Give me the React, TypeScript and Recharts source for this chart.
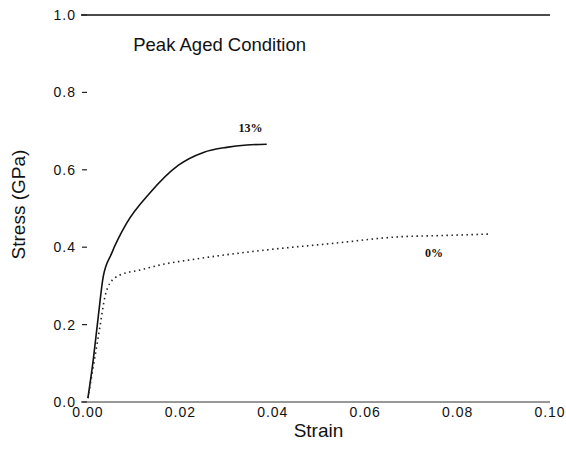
import React from 'react';
import { LineChart, Line, XAxis, YAxis, ReferenceLine, ReferenceDot } from 'recharts';

// 13% curve (solid)
const strain13 = [0, 0.00115, 0.00223, 0.00331, 0.00513, 0.00838, 0.0134, 0.0196, 0.025, 0.03, 0.0344, 0.0387];
const stress13 = [0.01, 0.109, 0.22, 0.324, 0.384, 0.462, 0.54, 0.612, 0.645, 0.658, 0.664, 0.666];

// 0% curve (dotted)
const strain0 = [0, 0.00152, 0.0026, 0.00368, 0.00476, 0.00693, 0.01126, 0.01558, 0.02424, 0.03868, 0.0531, 0.06753, 0.0762, 0.08701];
const stress0 = [0.01, 0.117, 0.195, 0.272, 0.307, 0.328, 0.341, 0.354, 0.371, 0.393, 0.41, 0.427, 0.43, 0.434];

const xTicks = [0, 0.02, 0.04, 0.06, 0.08, 0.1];
const yTicks = [0, 0.2, 0.4, 0.6, 0.8, 1.0];

const title = 'Peak Aged Condition';
const titlePos = { strain: 0.0285, stress: 0.924 };
const label13 = { text: '13%', strain: 0.0352, stress: 0.708 };
const label0 = { text: '0%', strain: 0.0749, stress: 0.386 };

const data13 = strain13.map((s, i) => ({ strain: s, stress: stress13[i] }));
const data0 = strain0.map((s, i) => ({ strain: s, stress: stress0[i] }));

const SANS = '"Liberation Sans", Arial, Helvetica, sans-serif';
const SERIF = '"Liberation Serif", "Times New Roman", serif';

const YTick = (props: any) => {
  const { x, y, payload } = props;
  return (
    <g>
      <line x1={x + 1} x2={x + 6} y1={y} y2={y} stroke="#222" strokeWidth={1.2} />
      <text x={x - 5} y={y} dy={5} textAnchor="end" fontSize={14} letterSpacing={1} fill="#111" fontFamily={SANS}>
        {Number(payload.value).toFixed(1)}
      </text>
    </g>
  );
};

const XTick = (props: any) => {
  const { x, y, payload } = props;
  return (
    <text x={x} y={y + 15} textAnchor="middle" fontSize={14} letterSpacing={1} fill="#111" fontFamily={SANS}>
      {Number(payload.value).toFixed(2)}
    </text>
  );
};

const YLabel = (props: any) => {
  const vb = props.viewBox || { x: 0, y: 15, width: 81, height: 387 };
  const cx = vb.x + 25;
  const cy = vb.y + vb.height / 2 - 4;
  return (
    <text x={cx} y={cy} transform={`rotate(-90 ${cx} ${cy})`} textAnchor="middle" fontSize={19} fill="#111" fontFamily={SANS}>
      Stress (GPa)
    </text>
  );
};

export default function App() {
  return (
    <div style={{ position: 'absolute', left: 0, top: 0, width: 566, height: 453, background: '#fff' }}>
      <LineChart width={566} height={453} margin={{ top: 15, right: 16, bottom: 0, left: 0 }}>
        <XAxis
          dataKey="strain"
          type="number"
          domain={[-0.0015, 0.1]}
          ticks={xTicks}
          allowDataOverflow
          height={51}
          tickSize={0}
          tickMargin={0}
          tickLine={false}
          axisLine={{ stroke: '#333', strokeWidth: 1.2 }}
          tick={<XTick />}
          label={{ value: 'Strain', position: 'insideBottom', offset: 16, fontSize: 19, fill: '#111', fontFamily: SANS, dx: 3 }}
        />
        <YAxis
          dataKey="stress"
          type="number"
          domain={[0, 1]}
          ticks={yTicks}
          allowDataOverflow
          width={81}
          tickSize={0}
          tickMargin={0}
          tickLine={false}
          axisLine={false}
          tick={<YTick />}
          label={{ content: <YLabel /> }}
        />
        <ReferenceLine y={1} stroke="#111" strokeWidth={1.4} />
        <Line
          data={data13}
          dataKey="stress"
          type="monotone"
          stroke="#111"
          strokeWidth={1.6}
          dot={false}
          isAnimationActive={false}
        />
        <Line
          data={data0}
          dataKey="stress"
          type="monotone"
          stroke="#222"
          strokeWidth={1.6}
          strokeDasharray="1.5 3.5"
          dot={false}
          isAnimationActive={false}
        />
        <ReferenceDot
          x={titlePos.strain}
          y={titlePos.stress}
          r={1}
          fill="none"
          stroke="none"
          label={{ value: title, position: 'center', fontSize: 18.5, fill: '#111', fontFamily: SANS }}
        />
        <ReferenceDot
          x={label13.strain}
          y={label13.stress}
          r={1}
          fill="none"
          stroke="none"
          label={{ value: label13.text, position: 'center', fontSize: 12, fontWeight: 'bold', fill: '#111', fontFamily: SERIF }}
        />
        <ReferenceDot
          x={label0.strain}
          y={label0.stress}
          r={1}
          fill="none"
          stroke="none"
          label={{ value: label0.text, position: 'center', fontSize: 12, fontWeight: 'bold', fill: '#111', fontFamily: SERIF }}
        />
      </LineChart>
    </div>
  );
}
